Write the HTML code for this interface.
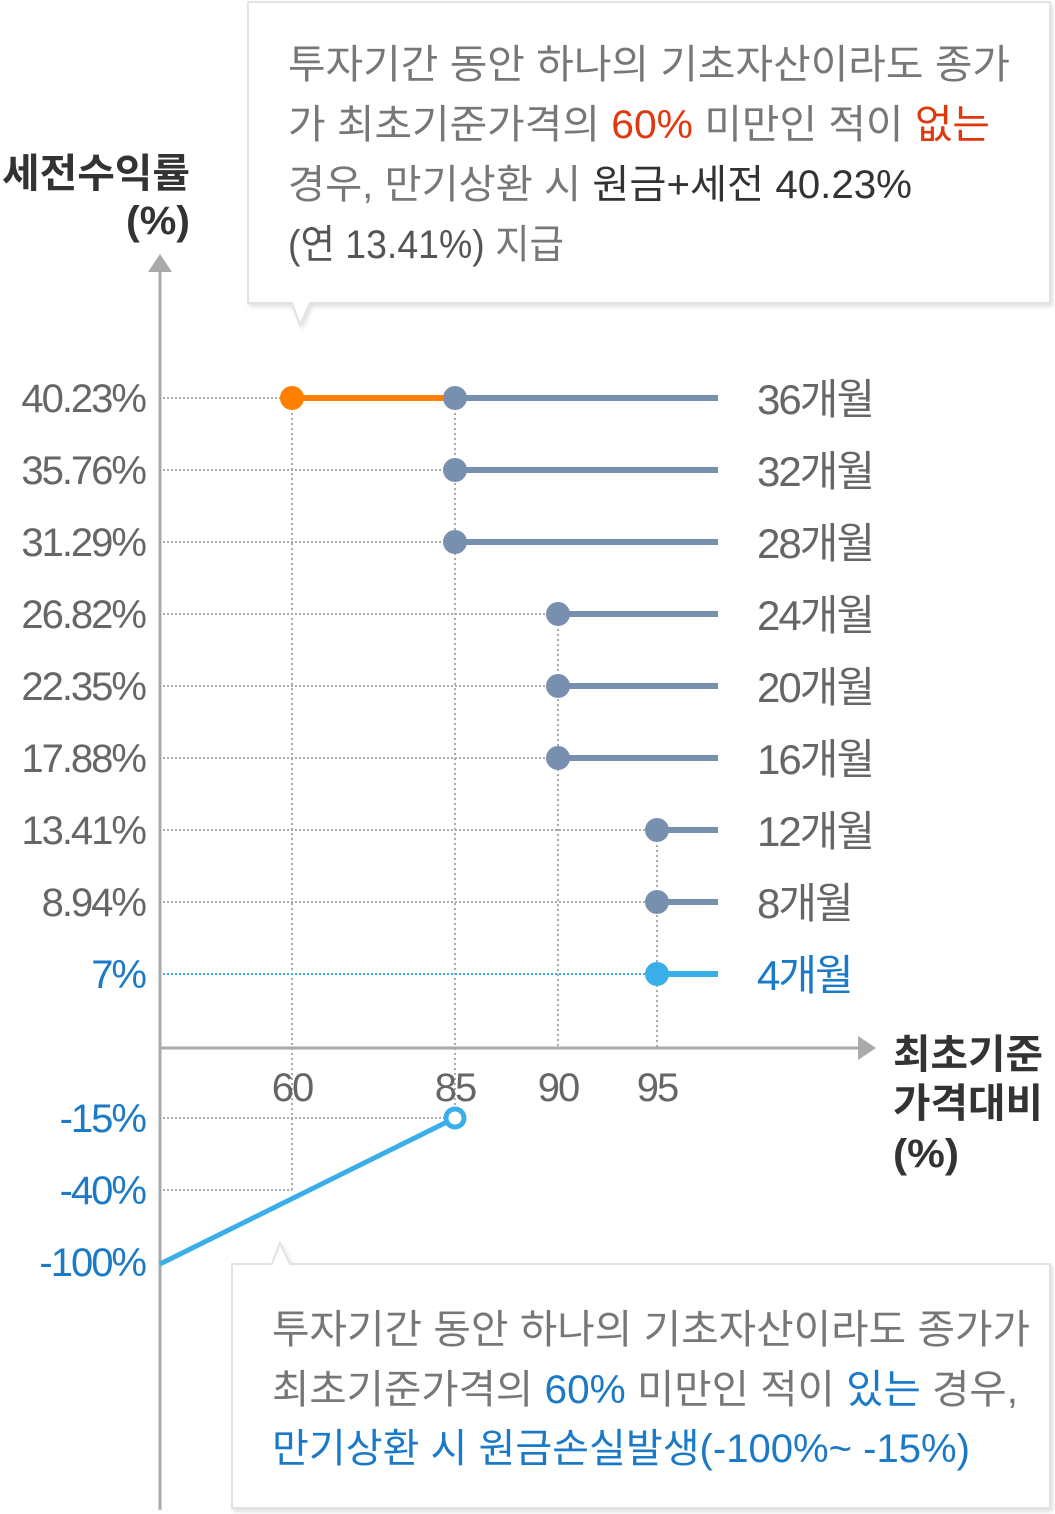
<!DOCTYPE html>
<html><head><meta charset="utf-8"><style>
html,body{margin:0;padding:0;background:#fff;}
svg{display:block;}
text{font-family:"Liberation Sans","Noto Sans CJK KR",sans-serif;}
</style></head><body>
<svg id="chart" width="1055" height="1514" viewBox="0 0 1055 1514" xmlns="http://www.w3.org/2000/svg">
<defs>
<filter id="sh" x="-5%" y="-5%" width="110%" height="115%"><feDropShadow dx="2" dy="3" stdDeviation="2" flood-color="#000" flood-opacity="0.12"/></filter>
</defs>
<g id="grid"></g>
<g id="axes">
<line x1="160" y1="270" x2="160" y2="1510" stroke="#aaa" stroke-width="3"/>
<polygon points="148,272 172,272 160,254" fill="#aaa"/>
<line x1="160" y1="1048" x2="860" y2="1048" stroke="#aaa" stroke-width="3"/>
<polygon points="858,1036 858,1060 876,1048" fill="#aaa"/>
</g>
<g id="marks"></g>
<g id="labels"></g>
<text x="190" y="187" text-anchor="end" font-size="40" font-weight="bold" fill="#333" textLength="188" lengthAdjust="spacingAndGlyphs">세전수익률</text>
<text x="190" y="234" text-anchor="end" font-size="40" font-weight="bold" fill="#333" textLength="64" lengthAdjust="spacingAndGlyphs">(%)</text>
<text x="893" y="1068" font-size="40" font-weight="bold" fill="#333" textLength="150" lengthAdjust="spacingAndGlyphs">최초기준</text>
<text x="893" y="1117" font-size="40" font-weight="bold" fill="#333" textLength="150" lengthAdjust="spacingAndGlyphs">가격대비</text>
<text x="893" y="1167" font-size="40" font-weight="bold" fill="#333" textLength="66" lengthAdjust="spacingAndGlyphs">(%)</text>

<g>
<path d="M248,2 H1050 V303 H310 L300,325 L292,303 H248 Z" fill="#fff" stroke="#e2e2e2" stroke-width="2" filter="url(#sh)"/>
<text x="288" y="78" font-size="40" fill="#777" textLength="722" lengthAdjust="spacingAndGlyphs">투자기간 동안 하나의 기초자산이라도 종가</text>
<text x="288" y="138" font-size="40" fill="#777" textLength="702" lengthAdjust="spacingAndGlyphs">가 최초기준가격의 <tspan fill="#e0380c">60%</tspan> 미만인 적이 <tspan fill="#e0380c">없는</tspan></text>
<text x="288" y="198" font-size="40" fill="#777" textLength="624" lengthAdjust="spacingAndGlyphs">경우, 만기상환 시 <tspan fill="#333">원금+세전 40.23%</tspan></text>
<text x="288" y="258" font-size="40" fill="#555" textLength="276" lengthAdjust="spacingAndGlyphs">(연 13.41%) <tspan fill="#777">지급</tspan></text>
</g>
<g>
<path d="M232,1264 H272 L280,1243 L290,1264 H1050 V1508 H232 Z" fill="#fff" stroke="#e2e2e2" stroke-width="2" filter="url(#sh)"/>
<text x="272" y="1343" font-size="40" fill="#777" textLength="758" lengthAdjust="spacingAndGlyphs">투자기간 동안 하나의 기초자산이라도 종가가</text>
<text x="272" y="1403" font-size="40" fill="#777" textLength="746" lengthAdjust="spacingAndGlyphs">최초기준가격의 <tspan fill="#1a7ac8">60%</tspan> 미만인 적이 <tspan fill="#1a7ac8">있는</tspan> 경우,</text>
<text x="272" y="1462" font-size="40" fill="#1a7ac8" textLength="698" lengthAdjust="spacingAndGlyphs">만기상환 시 원금손실발생(-100%~ -15%)</text>
</g>
</svg>
<script>
// data
const rowLabels = ["40.23%","35.76%","31.29%","26.82%","22.35%","17.88%","13.41%","8.94%","7%","-15%","-40%","-100%"];
const rowIndex = [0,1,2,3,4,5,6,7,8,10,11,12];
const monthLabels = ["36개월","32개월","28개월","24개월","20개월","16개월","12개월","8개월","4개월"];
const barrier = [85,85,85,90,90,90,95,95,95];
const xTicks = [60,85,90,95];
const orangeStart = 60;
const lossPoint = 85;
const lossRowStart = 11; // row index of -100%
const lossRowEnd = 9;    // row index of -15%

const NS = "http://www.w3.org/2000/svg";
const xDom = [60,85,90,95], xRng = [292,455,558,657];
function xScale(v){
  for(let i=0;i<xDom.length-1;i++){ if(v<=xDom[i+1]||i===xDom.length-2){const t=(v-xDom[i])/(xDom[i+1]-xDom[i]);return xRng[i]+t*(xRng[i+1]-xRng[i]);} }
}
function yScale(idx){ return 398 + 72*idx; }
const lineEnd = 718, gray="#7890b0", blue="#3aaee8", labelBlue="#1a7ac8";
function mk(tag, parent, attrs){ const e=document.createElementNS(NS,tag); for(const k in attrs) e.setAttribute(k,attrs[k]); parent.appendChild(e); return e; }
const grid=document.getElementById('grid'), marks=document.getElementById('marks'), labels=document.getElementById('labels');

// y labels & horizontal grid
rowLabels.forEach((l,i)=>{
  const y = yScale(rowIndex[i]);
  const isBlue = i>=8;
  const t = mk('text', labels, {x:145,y:y+14,'text-anchor':'end','font-size':40,fill:isBlue?labelBlue:"#666",'letter-spacing':-2});
  
  
  t.textContent = l;
});
// x ticks
xTicks.forEach(v=>{
  const t = mk('text', labels, {x:xScale(v),y:1101,'text-anchor':'middle','font-size':40,fill:"#666",'letter-spacing':-2});
  
  
  t.textContent = v;
});
// vertical dotted guides
xTicks.forEach(v=>{
  const ys = barrier.map((b,i)=>b===v?yScale(i):null).filter(y=>y!==null);
  let top = ys.length?Math.min(...ys):yScale(0);
  let bottom = 1048;
  if(v===orangeStart) bottom = yScale(rowIndex[10]);
  if(v===lossPoint) bottom = yScale(rowIndex[lossRowEnd]);
  const l = mk('line', grid, {x1:xScale(v),x2:xScale(v),y1:top,y2:bottom,stroke:"#aaa",'stroke-width':2,'stroke-dasharray':'2 3'});
  
  
});
// horizontal dotted guides
rowLabels.forEach((l,i)=>{
  let xEnd;
  if(i<barrier.length) xEnd = (i===0? xScale(orangeStart) : xScale(barrier[i]));
  else if(i===lossRowEnd) xEnd = xScale(lossPoint);
  else if(i===10) xEnd = xScale(orangeStart);
  else return;
  const ln = mk('line', grid, {x1:163,x2:xEnd,y1:yScale(rowIndex[i]),y2:yScale(rowIndex[i]),stroke:i===8?blue:"#aaa",'stroke-width':2,'stroke-dasharray':'2 2'});
  
  
});
// payoff bars
barrier.forEach((b,i)=>{
  const y=yScale(i), col = i===8?blue:gray;
  const ln = mk('line', marks, {x1:xScale(b),x2:lineEnd,y1:y,y2:y,stroke:col,'stroke-width':6});
  
  
  if(i===0){
    const o = mk('line', marks, {x1:xScale(orangeStart),x2:xScale(b),y1:y,y2:y,stroke:"#ff7f00",'stroke-width':6});
    
    
    const oc = mk('circle', marks, {cx:xScale(orangeStart),cy:y,r:12,fill:"#ff7f00"});
    
    
  }
  const c = mk('circle', marks, {cx:xScale(b),cy:y,r:12,fill:col});
  
  
  const t = mk('text', labels, {x:757,y:y+16,'font-size':42,fill:i===8?labelBlue:"#666",'letter-spacing':-2});
  
  
  t.textContent = monthLabels[i];
});
// loss line
const ly1 = yScale(rowIndex[lossRowStart])+2, ly2 = yScale(rowIndex[lossRowEnd]);
const ll = mk('line', marks, {x1:160,y1:ly1,x2:xScale(lossPoint),y2:ly2,stroke:blue,'stroke-width':5});


const lc = mk('circle', marks, {cx:xScale(lossPoint),cy:ly2,r:9,fill:"#fff",stroke:blue,'stroke-width':5});


</script>
</body></html>
